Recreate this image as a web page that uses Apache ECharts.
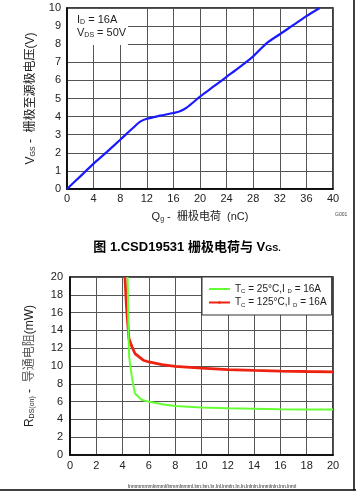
<!DOCTYPE html>
<html>
<head>
<meta charset="utf-8">
<script src="https://cdn.jsdelivr.net/npm/echarts@6/dist/echarts.min.js"></script>
<style>html,body{margin:0;padding:0;background:#fff}#c{width:356px;height:492px}</style>
</head>
<body>
<div id="c"></div>
<script>
// Top chart: gate charge vs VGS
const qgValues = [0, 2, 4, 6, 8, 10, 11, 12, 14, 16, 17, 18, 20, 22, 24, 26, 28, 30, 32, 34, 36, 38];
const vgsValues = [0, 0.7, 1.4, 2.05, 2.72, 3.4, 3.72, 3.88, 4.05, 4.2, 4.3, 4.5, 5.1, 5.65, 6.2, 6.75, 7.33, 8.05, 8.55, 9.05, 9.55, 10.0];
const topXTicks = [0, 4, 8, 12, 16, 20, 24, 28, 32, 36, 40];
const topYTicks = [0, 1, 2, 3, 4, 5, 6, 7, 8, 9, 10];

// Bottom chart: RDS(on) vs VGS
const vgs25 = [4.38, 4.46, 4.5, 4.7, 4.94, 5.44, 5.95, 7, 8, 10, 12, 14, 16, 18, 20];
const rds25 = [20, 12.9, 11.0, 8.8, 6.9, 6.2, 6.0, 5.7, 5.5, 5.33, 5.25, 5.2, 5.15, 5.12, 5.1];
const vgs125 = [4.18, 4.3, 4.48, 4.7, 4.94, 5.57, 6, 7, 8, 10, 12, 14, 16, 18, 20];
const rds125 = [20, 16.5, 13.1, 12.2, 11.4, 10.65, 10.45, 10.15, 9.95, 9.75, 9.6, 9.5, 9.42, 9.38, 9.35];
const botXTicks = [0, 2, 4, 6, 8, 10, 12, 14, 16, 18, 20];
const botYTicks = [0, 2, 4, 6, 8, 10, 12, 14, 16, 18, 20];
const legendNames = ['TC = 25°C,ID = 16A', 'TC = 125°C,ID = 16A'];

const FONT = '"Liberation Sans", Arial, sans-serif';
const CJK = '"Liberation Sans", "Noto Sans CJK SC", sans-serif';
const gridLine = {show: true, lineStyle: {color: '#555', width: 1}};
const axisLineStyle = {show: true, onZero: false, lineStyle: {color: '#000', width: 1.5}};
const tickLabel = {color: '#222', fontFamily: FONT, fontSize: 11};

const chart = echarts.init(document.getElementById('c'), null, {renderer: 'canvas'});
chart.setOption({
  animation: false,
  backgroundColor: '#fff',
  grid: [
    {left: 67, top: 8, width: 266, height: 181, show: true, borderColor: '#000', borderWidth: 1.5, backgroundColor: 'transparent'},
    {left: 70, top: 277, width: 263, height: 178, show: true, borderColor: '#000', borderWidth: 1.5, backgroundColor: 'transparent'}
  ],
  xAxis: [
    {gridIndex: 0, type: 'value', min: topXTicks[0], max: topXTicks[topXTicks.length-1], interval: 4,
     axisLine: axisLineStyle, axisTick: {show: false}, splitLine: gridLine,
     axisLabel: Object.assign({margin: 4}, tickLabel),
     name: '{m|Q}{s|g}{m| -  栅极电荷  (nC)}', nameLocation: 'middle', nameGap: 21,
     nameTextStyle: {rich: {m: {fontFamily: CJK, fontSize: 11, color: '#222'}, s: {fontFamily: FONT, fontSize: 7, color: '#222', verticalAlign: 'bottom', padding: [6,0,0,0]}}}},
    {gridIndex: 1, type: 'value', min: botXTicks[0], max: botXTicks[botXTicks.length-1], interval: 2,
     axisLine: axisLineStyle, axisTick: {show: false}, splitLine: gridLine,
     axisLabel: Object.assign({margin: 5}, tickLabel)}
  ],
  yAxis: [
    {gridIndex: 0, type: 'value', min: topYTicks[0], max: topYTicks[topYTicks.length-1], interval: 1,
     axisLine: axisLineStyle, axisTick: {show: false}, splitLine: gridLine,
     axisLabel: Object.assign({margin: 6}, tickLabel),
     name: '{m|V}{s|GS}{m| -  栅极至源极电压(V)}', nameLocation: 'middle', nameGap: 30, nameRotate: 90,
     nameTextStyle: {rich: {m: {fontFamily: CJK, fontSize: 12, color: '#222'}, s: {fontFamily: FONT, fontSize: 7, color: '#222', padding: [6,0,0,0]}}}},
    {gridIndex: 1, type: 'value', min: botYTicks[0], max: botYTicks[botYTicks.length-1], interval: 2,
     axisLine: axisLineStyle, axisTick: {show: false}, splitLine: gridLine,
     axisLabel: Object.assign({margin: 7}, tickLabel),
     name: '{m|R}{s|DS(on)}{m| -  }{g|导通电阻}{m|(mW)}', nameLocation: 'middle', nameGap: 34, nameRotate: 90,
     nameTextStyle: {rich: {m: {fontFamily: CJK, fontSize: 12, color: '#222'}, g: {fontFamily: CJK, fontSize: 12, color: '#555'}, s: {fontFamily: FONT, fontSize: 7, color: '#222', padding: [6,0,0,0]}}}}
  ],
  legend: {
    data: legendNames, orient: 'vertical', left: 202, top: 277,
    backgroundColor: '#fff', borderColor: '#333', borderWidth: 1,
    padding: [7, 5, 7, 6], itemGap: 3, itemWidth: 21, itemHeight: 3,
    formatter: function(n){ return n === legendNames[0] ? '{m|T}{s|C}{m| = 25°C,I }{s|D}{m| = 16A}' : '{m|T}{s|C}{m| = 125°C,I }{s|D}{m| = 16A}'; },
    textStyle: {rich: {m: {fontFamily: FONT, fontSize: 10, color: '#222'}, s: {fontFamily: FONT, fontSize: 6, color: '#222', padding: [5,0,0,0]}}}
  },
  series: [
    {type: 'line', xAxisIndex: 0, yAxisIndex: 0, data: qgValues.map((q,i)=>[q, vgsValues[i]]),
     showSymbol: false, symbol: 'none', smooth: 0.3, lineStyle: {color: '#1a1aff', width: 2.2}, itemStyle: {color: '#1a1aff'}},
    {type: 'line', name: legendNames[0], xAxisIndex: 1, yAxisIndex: 1, data: vgs25.map((v,i)=>[v, rds25[i]]),
     showSymbol: false, symbol: 'none', lineStyle: {color: '#66ff33', width: 2}, itemStyle: {color: '#66ff33'}, z: 3},
    {type: 'line', name: legendNames[1], xAxisIndex: 1, yAxisIndex: 1, data: vgs125.map((v,i)=>[v, rds125[i]]),
     showSymbol: false, symbol: 'none', lineStyle: {color: '#ee2211', width: 2.8}, itemStyle: {color: '#ee2211'}, z: 2}
  ],
  graphic: [
    {type: 'rect', shape: {x: 68, y: 9, width: 60, height: 36}, style: {fill: '#fff'}, z: 10},
    {type: 'text', x: 77, y: 14, z: 11, style: {text: '{m|I}{s|D}{m| = 16A}', rich: {m: {fontFamily: FONT, fontSize: 11, fill: '#222'}, s: {fontFamily: FONT, fontSize: 7, fill: '#222', padding: [5,0,0,0]}}}},
    {type: 'text', x: 77, y: 27, z: 11, style: {text: '{m|V}{s|DS}{m| = 50V}', rich: {m: {fontFamily: FONT, fontSize: 11, fill: '#222'}, s: {fontFamily: FONT, fontSize: 7, fill: '#222', padding: [5,0,0,0]}}}},
    {type: 'text', x: 335, y: 212, z: 11, style: {text: 'G001', fontFamily: FONT, fontSize: 5, fill: '#444'}},
    {type: 'text', x: 187, y: 247, z: 11, style: {text: '{b|图 1.CSD19531 栅极电荷与 V}{s|GS.}', align: 'center', verticalAlign: 'middle',
      rich: {b: {fontFamily: CJK, fontSize: 13, fontWeight: 'bold', fill: '#000'}, s: {fontFamily: FONT, fontSize: 9, fontWeight: 'bold', fill: '#000', padding: [4,0,0,0]}}}},
    {type: 'line', shape: {x1: 354, y1: 0, x2: 354, y2: 490}, style: {stroke: '#000', lineWidth: 1.5}, z: 11},
    {type: 'line', shape: {x1: 0, y1: 490, x2: 356, y2: 490}, style: {stroke: '#000', lineWidth: 1.5}, z: 11},
    {type: 'text', x: 128, y: 484, z: 11, style: {text: 'lnmmmmmlnmml/lnmmlnmml.lnn.lnn.ln.lnl.lnmln.ln.ln.lnlnln.lnnmlnln.lnn.lnml', fontFamily: FONT, fontSize: 5, fill: '#222'}}
  ]
});
</script>
</body>
</html>
